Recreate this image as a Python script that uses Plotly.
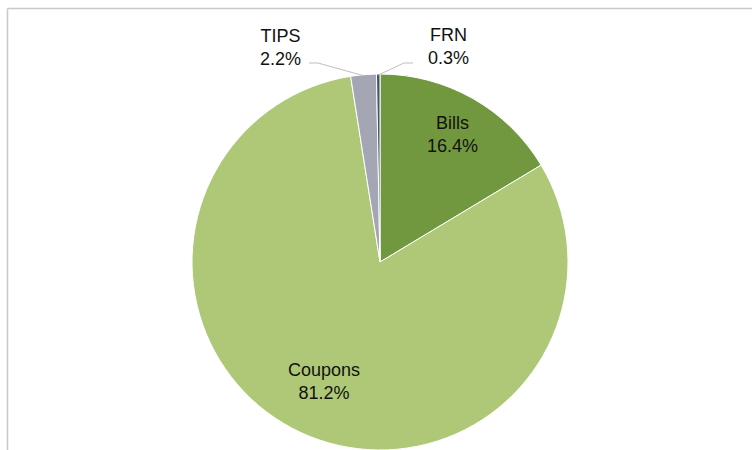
import math
import plotly.graph_objects as go

# ---- data ----
labels = ["Bills", "Coupons", "TIPS", "FRN"]
values = [16.4, 81.2, 2.2, 0.3]
pct_text = ["16.4%", "81.2%", "2.2%", "0.3%"]

# ---- style ----
colors = ["#71983E", "#AEC877", "#A4A6B3", "#44546A"]
W, H = 752, 450
CX, CY, R = 380, 262, 188  # pixel geometry of the pie

def px2paper(x, y):
    return x / W, 1 - y / H

def polar(angle_deg, r):
    a = math.radians(angle_deg)
    return CX + r * math.sin(a), CY - r * math.cos(a)

fig = go.Figure(go.Pie(
    labels=labels, values=values, sort=False, direction="clockwise", rotation=0,
    marker=dict(colors=colors, line=dict(color="white", width=1)),
    textinfo="none", hoverinfo="label+percent", showlegend=False,
    domain=dict(x=[(CX - R) / W, (CX + R) / W], y=[1 - (CY + R) / H, 1 - (CY - R) / H]),
))

total = sum(values)
mids = []
acc = 0
for v in values:
    mids.append((acc + v / 2) / total * 360)
    acc += v

annotations = []
shapes = []
font = dict(family="Liberation Sans, Arial, sans-serif", size=18, color="#111111")

# inside labels
inside_r = {"Bills": 0.78, "Coupons": 0.70}
# outside labels: text centre (pixels) and elbow point of leader line
outside = {"TIPS": ((280, 47), (309, 63), (318, 63)), "FRN": ((449, 46), (413, 63), (404, 63))}

for lab, pct, m in zip(labels, pct_text, mids):
    if lab in inside_r:
        x, y = polar(m, R * inside_r[lab])
        xp, yp = px2paper(x, y)
        annotations.append(dict(x=xp, y=yp, xref="paper", yref="paper", text=f"{lab}<br>{pct}",
                                showarrow=False, font=font, xanchor="center", yanchor="middle"))
    else:
        (tx, ty), (e1x, e1y), (e2x, e2y) = outside[lab]
        xp, yp = px2paper(tx, ty)
        annotations.append(dict(x=xp, y=yp, xref="paper", yref="paper", text=f"{lab}<br>{pct}",
                                showarrow=False, font=font, xanchor="center", yanchor="middle"))
        ex, ey = polar(m, R - 1)
        pts = [px2paper(e1x, e1y), px2paper(e2x, e2y), px2paper(ex, ey)]
        path = "M {} {} L {} {} L {} {}".format(pts[0][0], pts[0][1], pts[1][0], pts[1][1], pts[2][0], pts[2][1])
        shapes.append(dict(type="path", xref="paper", yref="paper", path=path,
                           line=dict(color="#BFBFBF", width=1)))

# chart border (top and left edges visible)
bx, by = px2paper(7.5, 8.5)
shapes.append(dict(type="line", xref="paper", yref="paper", x0=bx, y0=by, x1=1.0, y1=by,
                   line=dict(color="#C8C8C8", width=1.5)))
shapes.append(dict(type="line", xref="paper", yref="paper", x0=bx, y0=by, x1=bx, y1=0,
                   line=dict(color="#C8C8C8", width=1.5)))

fig.update_layout(
    width=W, height=H, margin=dict(l=0, r=0, t=0, b=0),
    paper_bgcolor="white", plot_bgcolor="white",
    annotations=annotations, shapes=shapes,
)

fig.write_html("out.html", config={"displayModeBar": False},
               post_script="document.body.style.margin='0';")
